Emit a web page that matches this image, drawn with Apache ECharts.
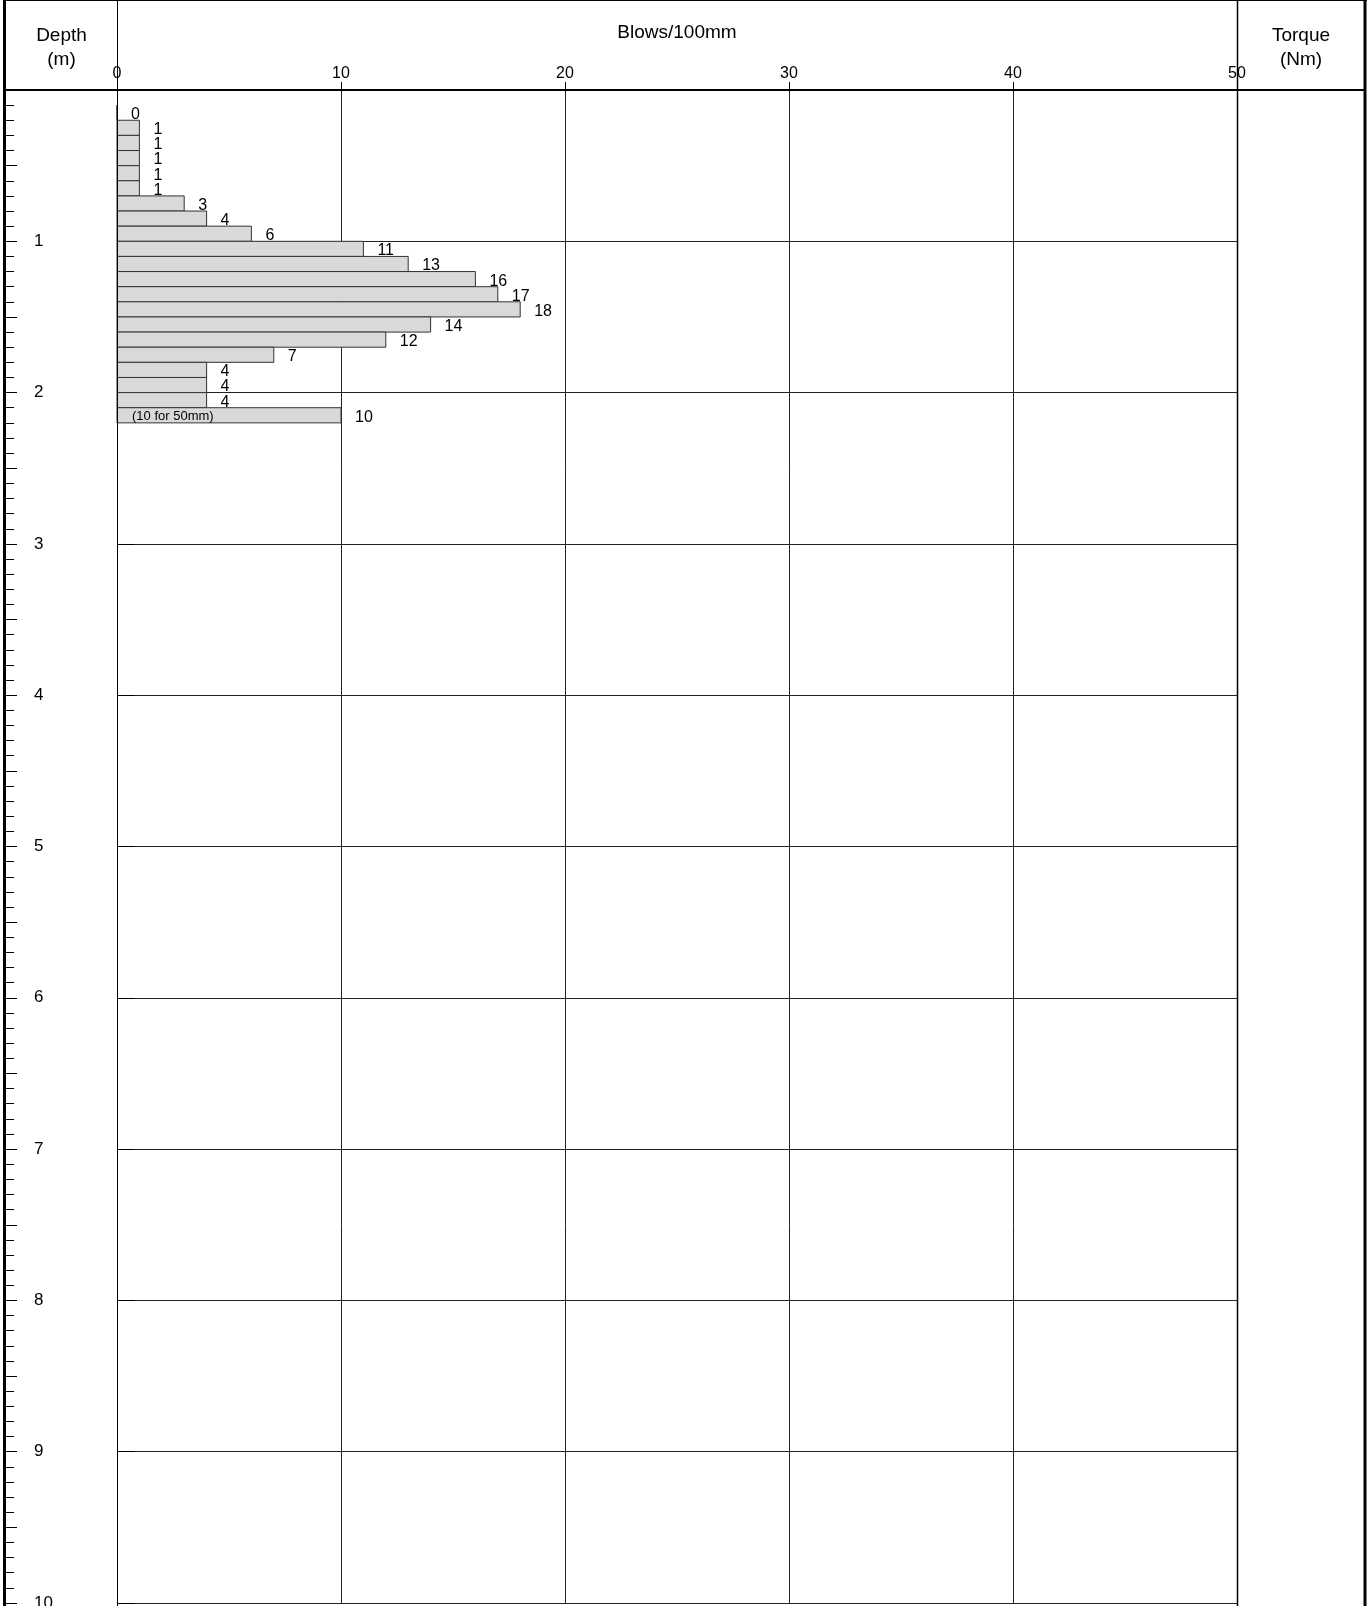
<!DOCTYPE html>
<html>
<head>
<meta charset="utf-8">
<script src="https://cdn.jsdelivr.net/npm/echarts@6/dist/echarts.min.js"></script>
<style>
  html, body { margin: 0; padding: 0; background: #fff; }
  #chart { width: 1370px; height: 1606px; }
</style>
</head>
<body>
<div id="chart"></div>
<script>
// ---- data ----
const depthFrom = [0.1, 0.2, 0.3, 0.4, 0.5, 0.6, 0.7, 0.8, 0.9, 1.0, 1.1, 1.2, 1.3, 1.4, 1.5, 1.6, 1.7, 1.8, 1.9, 2.0, 2.1];
const depthTo   = [0.2, 0.3, 0.4, 0.5, 0.6, 0.7, 0.8, 0.9, 1.0, 1.1, 1.2, 1.3, 1.4, 1.5, 1.6, 1.7, 1.8, 1.9, 2.0, 2.1, 2.2];
const blows     = [0, 1, 1, 1, 1, 1, 3, 4, 6, 11, 13, 16, 17, 18, 14, 12, 7, 4, 4, 4, 10];
const notes     = ['', '', '', '', '', '', '', '', '', '', '', '', '', '', '', '', '', '', '', '', '(10 for 50mm)'];
const blowTicks = ['0', '10', '20', '30', '40', '50'];
const depthTicks = ['', '1', '2', '3', '4', '5', '6', '7', '8', '9', '10'];
const headerTexts = { depth: 'Depth\n(m)', blows: 'Blows/100mm', torque: 'Torque\n(Nm)' };

// ---- layout ----
const W = 1370, H = 1606;
const GRID_L = 117, GRID_R = 1237, GRID_T = 90, GRID_B = 1603;
const BORDER_L = 6;
const FONT = 'Liberation Sans, Arial, sans-serif';

const chart = echarts.init(document.getElementById('chart'), null, { renderer: 'canvas' });

function renderItem(params, api) {
  const i = params.dataIndex;
  const v = api.value(0);
  const p0 = api.coord([0, api.value(1)]);
  const p1 = api.coord([v, api.value(2)]);
  const yMid = (p0[1] + p1[1]) / 2 + 2;
  const children = [
    {
      type: 'rect',
      shape: { x: p0[0], y: p0[1], width: p1[0] - p0[0], height: p1[1] - p0[1] },
      style: { fill: '#d9d9d9', stroke: '#333', lineWidth: 1 }
    },
    {
      type: 'text',
      style: { x: p1[0] + 14, y: yMid, text: String(v), fill: '#000', font: '16px ' + FONT, textAlign: 'left', textVerticalAlign: 'middle' }
    }
  ];
  if (notes[i]) {
    children.push({
      type: 'text',
      style: { x: p0[0] + 15, y: yMid - 1, text: notes[i], fill: '#000', font: '13px ' + FONT, textAlign: 'left', textVerticalAlign: 'middle' }
    });
  }
  return { type: 'group', children };
}

const seriesData = blows.map((b, i) => [b, depthFrom[i], depthTo[i]]);

const line = (x1, y1, x2, y2, w) => ({
  type: 'line', silent: true, z: 100,
  shape: { x1, y1, x2, y2 },
  style: { stroke: '#000', lineWidth: w }
});
const txt = (x, y, text) => ({
  type: 'text', z: 100,
  style: { x, y, text, fill: '#000', font: '19px ' + FONT, textAlign: 'center', textVerticalAlign: 'top', lineHeight: 24 }
});

const depthAxisBase = {
  type: 'value', min: 0, max: 10, inverse: true, position: 'left', offset: GRID_L - BORDER_L,
  axisLine: { show: false },
  splitLine: { show: false },
  axisLabel: { show: false }
};

const option = {
  animation: false,
  backgroundColor: '#fff',
  grid: { left: GRID_L, top: GRID_T, width: GRID_R - GRID_L, height: GRID_B - GRID_T, containLabel: false, outerBoundsMode: 'none' },
  xAxis: {
    type: 'value', min: 0, max: 50, interval: 10, position: 'top',
    axisLine: { show: false },
    axisTick: { show: true, length: 8, lineStyle: { color: '#000', width: 1 } },
    axisLabel: { show: true, margin: 8, fontSize: 16, color: '#000', fontFamily: FONT,
      formatter: (v) => blowTicks[Math.round(v / 10)] },
    splitLine: { show: true, lineStyle: { color: '#222', width: 1 } }
  },
  yAxis: [
    Object.assign({}, depthAxisBase, {
      interval: 1,
      axisTick: { show: true, inside: true, length: 17, lineStyle: { color: '#000', width: 1 } },
      axisLabel: { show: true, inside: true, margin: 28, fontSize: 17, color: '#000', fontFamily: FONT, verticalAlign: 'middle',
        formatter: (v) => depthTicks[Math.round(v)] },
      splitLine: { show: true, lineStyle: { color: '#222', width: 1 } }
    }),
    Object.assign({}, depthAxisBase, {
      interval: 0.5,
      axisTick: { show: true, inside: true, length: 11, lineStyle: { color: '#000', width: 1 } }
    }),
    Object.assign({}, depthAxisBase, {
      interval: 0.1,
      axisTick: { show: true, inside: true, length: 8, lineStyle: { color: '#000', width: 1 } }
    })
  ],
  series: [{
    type: 'custom',
    xAxisIndex: 0, yAxisIndex: 0,
    renderItem,
    data: seriesData,
    clip: false,
    z: 10
  }],
  graphic: [
    // frame
    line(4.5, 0, 4.5, H, 3),
    line(1365, 0, 1365, H, 3),
    line(3, 0.5, 1367, 0.5, 1),
    line(BORDER_L, GRID_T, 1364, GRID_T, 2),
    line(GRID_L + 0.5, 0, GRID_L + 0.5, H, 1),
    line(GRID_R + 0.5, 0, GRID_R + 0.5, H, 1.5),
    // header texts
    txt((BORDER_L + GRID_L) / 2, 24, headerTexts.depth),
    txt((GRID_L + GRID_R) / 2, 21, headerTexts.blows),
    txt((GRID_R + 1365) / 2, 24, headerTexts.torque)
  ]
};
chart.setOption(option);
</script>
</body>
</html>
